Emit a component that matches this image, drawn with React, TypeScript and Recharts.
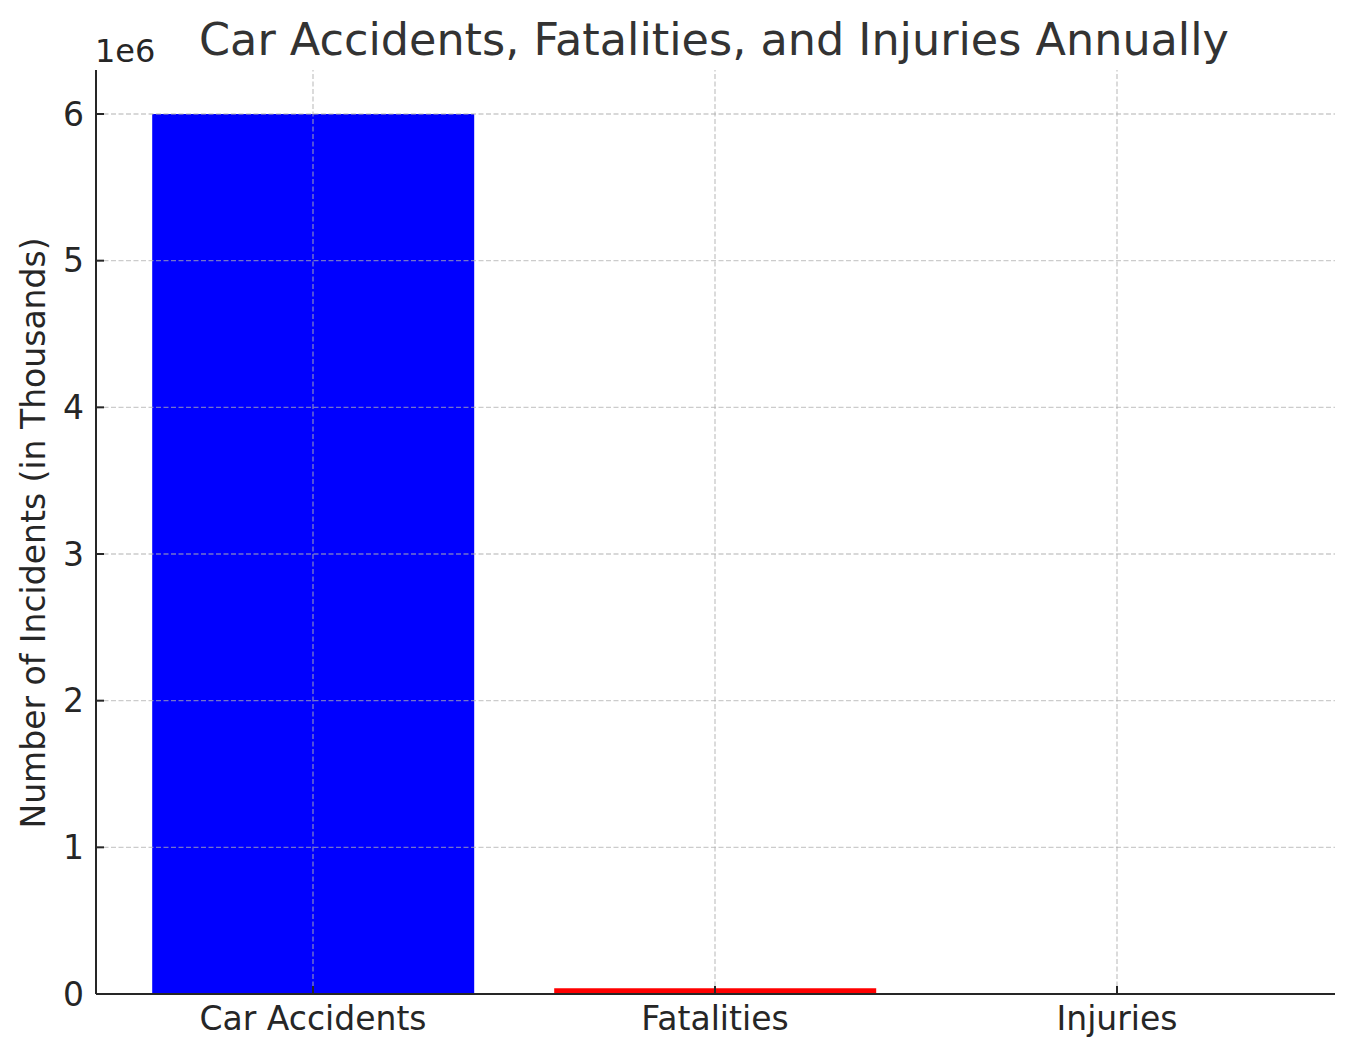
import React from 'react';
import { BarChart, Bar, Cell, XAxis, YAxis, ReferenceLine } from 'recharts';

const categories = ['Car Accidents', 'Fatalities', 'Injuries'];
const incidents = [6000000, 40000, 2000];
const barColors = ['#0000ff', '#ff0000', '#008000'];
const yTicks = [0, 1000000, 2000000, 3000000, 4000000, 5000000, 6000000];

const FONT = '"DejaVu Sans", sans-serif';
const INK = '#262626';

const data = categories.map((name, i) => ({ name, value: incidents[i] }));

const gridStyle = {
    stroke: '#b0b0b0',
    strokeOpacity: 0.65,
    strokeDasharray: '5 2.5',
    strokeWidth: 1.4,
};

function YTitle() {
    return (
        <text
            x={45}
            y={533}
            transform="rotate(-90, 45, 533)"
            textAnchor="middle"
            fontSize={33}
            fontFamily={FONT}
            fill={INK}
        >
            Number of Incidents (in Thousands)
        </text>
    );
}

export default function App() {
    return (
        <div style={{ position: 'absolute', left: 0, top: 0, width: 1355, height: 1057, background: '#fff' }}>
            <BarChart
                width={1355}
                height={1057}
                data={data}
                margin={{ top: 70, right: 20, bottom: 0, left: 0 }}
                barCategoryGap="10%"
            >
                <text x={714} y={55} textAnchor="middle" fontSize={44.5} fontFamily={FONT} fill="#333333">
                    Car Accidents, Fatalities, and Injuries Annually
                </text>
                <text x={95} y={62} textAnchor="start" fontSize={32} fontFamily={FONT} fill={INK}>
                    1e6
                </text>
                <Bar dataKey="value" isAnimationActive={false}>
                    {data.map((d, i) => (
                        <Cell key={d.name} fill={barColors[i]} />
                    ))}
                </Bar>
                {yTicks.slice(1).map((v) => (
                    <ReferenceLine key={'y' + v} y={v} {...gridStyle} />
                ))}
                {categories.map((c) => (
                    <ReferenceLine key={'x' + c} x={c} {...gridStyle} />
                ))}
                <XAxis
                    dataKey="name"
                    height={63}
                    padding={{ left: 16, right: 17 }}
                    axisLine={{ stroke: INK, strokeWidth: 2 }}
                    tickLine={{ stroke: INK, strokeWidth: 2 }}
                    tickSize={-8}
                    tickMargin={21}
                    tick={{ fontSize: 33, fontFamily: FONT, fill: INK }}
                    interval={0}
                />
                <YAxis
                    width={96}
                    domain={[0, 6300000]}
                    ticks={yTicks}
                    allowDataOverflow
                    tickFormatter={(v) => String(v / 1000000)}
                    axisLine={{ stroke: INK, strokeWidth: 2 }}
                    tickLine={{ stroke: INK, strokeWidth: 2 }}
                    tickSize={-8}
                    tickMargin={20}
                    tick={{ fontSize: 33, fontFamily: FONT, fill: INK }}
                    label={<YTitle />}
                />
            </BarChart>
        </div>
    );
}
